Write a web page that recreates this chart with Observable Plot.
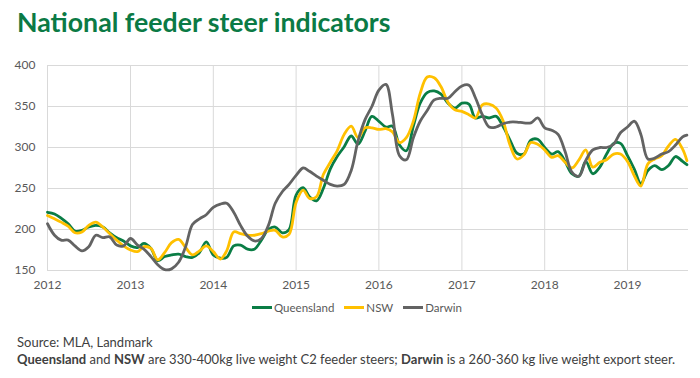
<!DOCTYPE html>
<html>
<head>
<meta charset="utf-8">
<script src="https://cdn.jsdelivr.net/npm/d3@7"></script>
<script src="https://cdn.jsdelivr.net/npm/@observablehq/plot@0.6"></script>
<style>
  html, body { margin: 0; padding: 0; background: #fff; }
  body { width: 700px; height: 378px; position: relative; overflow: hidden; font-family: Lato, "Open Sans", sans-serif; }
  #title { position: absolute; left: 17px; top: 6px; font-size: 26.7px; font-weight: 700; color: #0B7A45; white-space: nowrap; }
  #chart { position: absolute; left: 0; top: 50px; }
  #legend { position: absolute; left: 252px; top: 301px; display: flex; align-items: center; font-size: 11.5px; color: #595959; white-space: nowrap; }
  #legend .item { display: flex; align-items: center; margin-right: 10px; }
  #legend .sw { width: 20px; height: 3px; margin-right: 2px; }
  #caption { position: absolute; left: 17px; top: 334px; font-size: 13px; line-height: 17px; color: #404040; white-space: nowrap; }
</style>
</head>
<body>
<div id="title">National feeder steer indicators</div>
<div id="chart"></div>
<div id="legend"></div>
<div id="caption">Source: MLA, Landmark<br><b>Queensland</b> and <b>NSW</b> are 330-400kg live weight C2 feeder steers; <b>Darwin</b> is a 260-360 kg live weight export steer.</div>
<script>
// ---- data ----
const months = [
  "2012-01-01","2012-02-01","2012-03-01","2012-04-01","2012-05-01","2012-06-01","2012-07-01","2012-08-01","2012-09-01","2012-10-01","2012-11-01","2012-12-01",
  "2013-01-01","2013-02-01","2013-03-01","2013-04-01","2013-05-01","2013-06-01","2013-07-01","2013-08-01","2013-09-01","2013-10-01","2013-11-01","2013-12-01",
  "2014-01-01","2014-02-01","2014-03-01","2014-04-01","2014-05-01","2014-06-01","2014-07-01","2014-08-01","2014-09-01","2014-10-01","2014-11-01","2014-12-01",
  "2015-01-01","2015-02-01","2015-03-01","2015-04-01","2015-05-01","2015-06-01","2015-07-01","2015-08-01","2015-09-01","2015-10-01","2015-11-01","2015-12-01",
  "2016-01-01","2016-02-01","2016-03-01","2016-04-01","2016-05-01","2016-06-01","2016-07-01","2016-08-01","2016-09-01","2016-10-01","2016-11-01","2016-12-01",
  "2017-01-01","2017-02-01","2017-03-01","2017-04-01","2017-05-01","2017-06-01","2017-07-01","2017-08-01","2017-09-01","2017-10-01","2017-11-01","2017-12-01",
  "2018-01-01","2018-02-01","2018-03-01","2018-04-01","2018-05-01","2018-06-01","2018-07-01","2018-08-01","2018-09-01","2018-10-01","2018-11-01","2018-12-01",
  "2019-01-01","2019-02-01","2019-03-01","2019-04-01","2019-05-01","2019-06-01","2019-07-01","2019-08-01","2019-09-01","2019-09-20"
];
const queensland = [
  221,219,214,207,198,199,203,205,203,196,190,186,
  180,178,183,177,162,167,169,170,167,166,172,185,
  169,165,166,180,181,176,176,187,200,203,196,200,
  242,251,240,235,250,274,289,301,314,304,320,338,
  332,325,326,303,296,326,354,367,369,365,354,348,
  354,353,336,338,336,338,326,309,293,292,309,310,
  300,292,295,283,268,265,283,268,276,292,305,305,
  290,273,256,272,278,273,278,289,283,279
];
const nsw = [
  217,213,209,204,196,197,205,209,203,195,187,180,
  175,173,179,177,163,172,184,188,178,169,174,180,
  173,164,174,197,195,193,193,195,198,199,191,194,
  233,248,238,240,267,282,296,316,326,312,324,324,
  322,323,319,306,312,332,366,386,385,374,355,346,
  344,340,336,352,353,348,333,303,286,291,306,304,
  297,288,290,282,275,285,297,276,282,285,292,292,
  283,265,253,280,286,290,302,310,298,284
];
const darwin = [
  207,193,187,187,180,174,179,193,190,191,181,180,
  189,181,176,167,157,151,152,160,179,206,213,218,
  227,231,232,221,205,192,186,189,205,232,246,255,
  266,275,271,265,260,255,253,255,272,308,334,350,
  370,377,340,290,285,312,332,345,358,360,360,368,
  375,376,361,340,325,325,329,331,331,330,330,336,
  324,321,316,295,270,265,284,297,300,300,304,318,
  325,332,316,286,287,292,295,303,313,315
];
const seriesNames = ["Queensland", "NSW", "Darwin"];
const seriesColors = ["#0A7D45", "#FFC000", "#636363"];
const yearTicks = ["2012","2013","2014","2015","2016","2017","2018","2019"];
const yTicks = [150, 200, 250, 300, 350, 400];

// ---- build ----
const parse = d3.utcParse("%Y-%m-%d");
const dates = months.map(parse);
const seriesValues = [queensland, nsw, darwin];
const rows = [];
seriesNames.forEach((name, s) => {
  dates.forEach((d, i) => rows.push({date: d, series: name, value: seriesValues[s][i]}));
});
const yearDates = yearTicks.map(y => parse(y + "-01-01"));

const chart = Plot.plot({
  width: 700,
  height: 250,
  marginTop: 15,
  marginBottom: 30,
  marginLeft: 47,
  marginRight: 12,
  style: {fontFamily: "Lato, 'Open Sans', sans-serif", fontSize: "12px", color: "#595959", background: "white"},
  x: {type: "utc", domain: [parse("2012-01-01"), parse("2019-09-27")]},
  y: {domain: [150, 400]},
  color: {domain: seriesNames, range: seriesColors},
  marks: [
    Plot.gridX(yearDates, {stroke: "#D9D9D9", strokeOpacity: 1, strokeWidth: 1}),
    Plot.gridY(yTicks, {stroke: "#D9D9D9", strokeOpacity: 1, strokeWidth: 1}),
    Plot.axisX(yearDates, {tickFormat: d3.utcFormat("%Y"), tickSize: 0, tickPadding: 10, label: null, fill: "#595959"}),
    Plot.axisY(yTicks, {tickSize: 0, tickPadding: 12, label: null, fill: "#595959"}),
    Plot.lineY(rows, {x: "date", y: "value", z: "series", stroke: "series", curve: "catmull-rom", strokeWidth: 2.8})
  ]
});
document.getElementById("chart").appendChild(chart);

const legend = document.getElementById("legend");
seriesNames.forEach((name, i) => {
  const item = document.createElement("div");
  item.className = "item";
  const sw = document.createElement("div");
  sw.className = "sw";
  sw.style.background = seriesColors[i];
  const label = document.createElement("span");
  label.textContent = name;
  item.appendChild(sw);
  item.appendChild(label);
  legend.appendChild(item);
});
</script>
</body>
</html>
